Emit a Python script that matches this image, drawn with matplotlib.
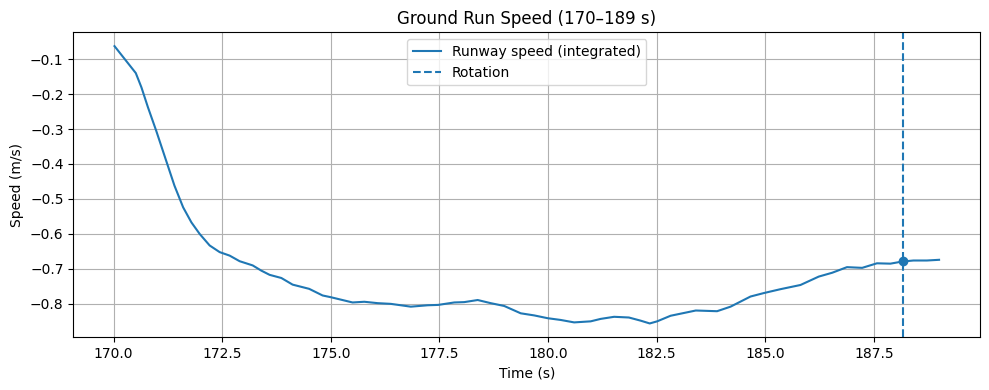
import numpy as np
import matplotlib
matplotlib.use("Agg")
import matplotlib.pyplot as plt

# Integrated runway speed
time_s = [170.02, 170.51, 170.64, 170.79, 170.98, 171.21, 171.40, 171.60, 171.79,
          171.98, 172.21, 172.44, 172.67, 172.90, 173.20, 173.40, 173.59, 173.86,
          174.12, 174.50, 174.81, 175.00, 175.50, 175.77, 176.08, 176.38, 176.84,
          177.23, 177.47, 177.84, 178.07, 178.38, 178.68, 178.99, 179.37, 179.68,
          179.99, 180.29, 180.60, 180.98, 181.21, 181.52, 181.86, 182.13, 182.34,
          182.51, 182.82, 183.13, 183.40, 183.89, 184.20, 184.66, 184.97, 185.35,
          185.81, 186.23, 186.54, 186.88, 187.23, 187.57, 187.88, 188.15, 188.41,
          188.72, 189.00]
speed = [-0.063, -0.140, -0.181, -0.238, -0.305, -0.391, -0.462, -0.524, -0.567,
         -0.600, -0.633, -0.652, -0.662, -0.678, -0.690, -0.705, -0.717, -0.726,
         -0.745, -0.757, -0.776, -0.781, -0.796, -0.794, -0.798, -0.800, -0.808,
         -0.804, -0.803, -0.796, -0.795, -0.789, -0.798, -0.806, -0.827, -0.833,
         -0.841, -0.846, -0.853, -0.850, -0.843, -0.837, -0.839, -0.848, -0.856,
         -0.850, -0.834, -0.826, -0.819, -0.821, -0.808, -0.779, -0.769, -0.758,
         -0.746, -0.722, -0.711, -0.695, -0.697, -0.684, -0.685, -0.679, -0.676,
         -0.676, -0.674]
rotation_t = 188.18

fig, ax = plt.subplots(figsize=(9.89, 3.9), dpi=100)
fig.subplots_adjust(left=0.0741, right=0.9912, top=0.9172, bottom=0.1351)

ax.plot(time_s, speed, color="C0", label="Runway speed (integrated)")
ax.axvline(rotation_t, color="C0", linestyle="--", label="Rotation")
ax.plot([rotation_t], [np.interp(rotation_t, time_s, speed)], "o", color="C0")

ax.set_title("Ground Run Speed (170\u2013189 s)")
ax.set_xlabel("Time (s)")
ax.set_ylabel("Speed (m/s)")
ax.grid(True)
ax.legend(loc="upper center")

fig.savefig("out.png")
